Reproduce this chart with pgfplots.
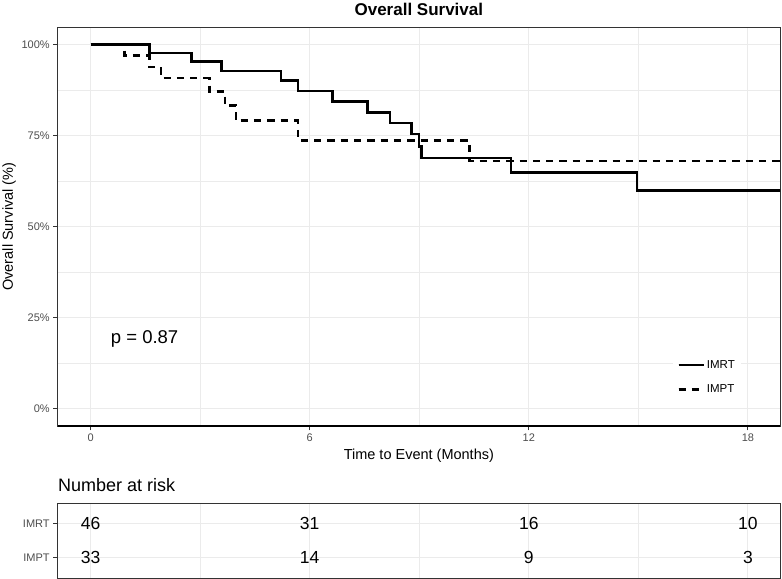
\documentclass[border=0pt]{standalone}
\usepackage{fontspec}
\setmainfont{Liberation Sans}
\usepackage{pgfplots}
\pgfplotsset{compat=1.18}
\usepackage{pgfplotstable}
\definecolor{gridc}{HTML}{EBEBEB}
\definecolor{tickc}{HTML}{4D4D4D}
\definecolor{framec}{HTML}{333333}

\pgfplotstableread{
t s
0 100
1.61 97.7
2.77 95.4
3.59 92.8
5.21 90.1
5.68 87.3
6.62 84.4
7.58 81.4
8.20 78.5
8.79 75.5
8.99 72.0
9.06 68.8
11.51 64.8
14.96 59.9
19.2 59.9
}\imrt

\pgfplotstableread{
t s
0 100
0.93 97.0
1.61 93.9
1.93 90.8
3.25 87.1
3.68 83.3
3.98 79.1
5.68 73.7
10.37 68.0
19.2 68.0
}\impt

\pgfplotstableread{
t row n
0 1 46
6 1 31
12 1 16
18 1 10
0 2 33
6 2 14
12 2 9
18 2 3
}\risk

\begin{document}
\begin{tikzpicture}
\useasboundingbox (0bp,0bp) rectangle (782bp,579bp);
\pgfplotsset{common/.style={
  scale only axis, width=722.3bp,
  xmin=-0.9, xmax=18.88,
  axis line style={draw=framec, line width=0.6bp},
  grid=both,
  major grid style={draw=gridc, line width=1.07bp},
  minor grid style={draw=gridc, line width=0.53bp},
  tick align=outside, tick pos=left,
  major tick length=4.5bp, minor tick length=0pt,
  major tick style={draw=framec, line width=0.9bp},
  tick label style={font=\fontsize{11bp}{13bp}\selectfont, text=tickc},
  /pgf/number format/assume math mode=true,
  xtick={0,6,12,18}, minor xtick={3,9,15},
}}
\begin{axis}[common,
  at={(57.7bp,153bp)}, anchor=south west, height=398.7bp,
  ymin=-4.86, ymax=104.8,
  ytick={0,25,50,75,100}, yticklabels={0\%,25\%,50\%,75\%,100\%},
  minor ytick={12.5,37.5,62.5,87.5},
  title={Overall Survival},
  title style={font=\bfseries\fontsize{17bp}{20bp}\selectfont, at={(axis description cs:0.5,1)}, anchor=base, yshift=6.3bp},
  xlabel={Time to Event (Months)},
  xlabel style={font=\fontsize{14.5bp}{17bp}\selectfont, at={(axis description cs:0.5,0)}, anchor=base, yshift=-33.7bp},
  ylabel={Overall Survival (\%)},
  ylabel style={font=\fontsize{14.5bp}{17bp}\selectfont, at={(axis description cs:0,0.5)}, anchor=center, yshift=48.7bp},
  legend style={at={(axis description cs:0.852,0.1856)}, anchor=north west, draw=none, fill=white,
    font=\fontsize{11.5bp}{13bp}\selectfont, row sep=11bp, inner xsep=4bp, inner ysep=6bp},
  legend cell align=left,
  legend image code/.code={\draw[#1] (0bp,0bp) -- (20bp,0bp); \path (0bp,0bp) -- (25bp,0bp);},
  after end axis/.code={\draw[black, line width=1.1bp] (rel axis cs:0,0) -- (rel axis cs:1,0);},
]
\addplot[black, line width=2.6bp, const plot, mark=none] table[x=t,y=s] {\imrt};
\addlegendentry{IMRT}
\addplot[black, line width=2.6bp, const plot, mark=none, dash pattern=on 7.3bp off 6bp] table[x=t,y=s] {\impt};
\addlegendentry{IMPT}
\node[anchor=base, font=\fontsize{18.5bp}{22bp}\selectfont, inner sep=0pt] at (axis cs:1.48,17.9) {p = 0.87};
\end{axis}

\begin{axis}[common,
  at={(57.7bp,1bp)}, anchor=south west, height=75bp,
  ymin=0.4, ymax=2.6, y dir=reverse,
  ytick={1,2}, yticklabels={IMRT,IMPT},
  xticklabels={}, x tick style={draw=none},
]
\addplot[draw=none, mark=none, nodes near coords, point meta=explicit symbolic,
  nodes near coords style={anchor=center, font=\fontsize{17.5bp}{20bp}\selectfont, inner sep=0pt, text=black}]
  table[x=t, y=row, meta=n] {\risk};
\end{axis}
\node[anchor=base west, font=\fontsize{18bp}{21bp}\selectfont, inner sep=0pt] at (58bp,87.3bp) {Number at risk};
\end{tikzpicture}
\end{document}
